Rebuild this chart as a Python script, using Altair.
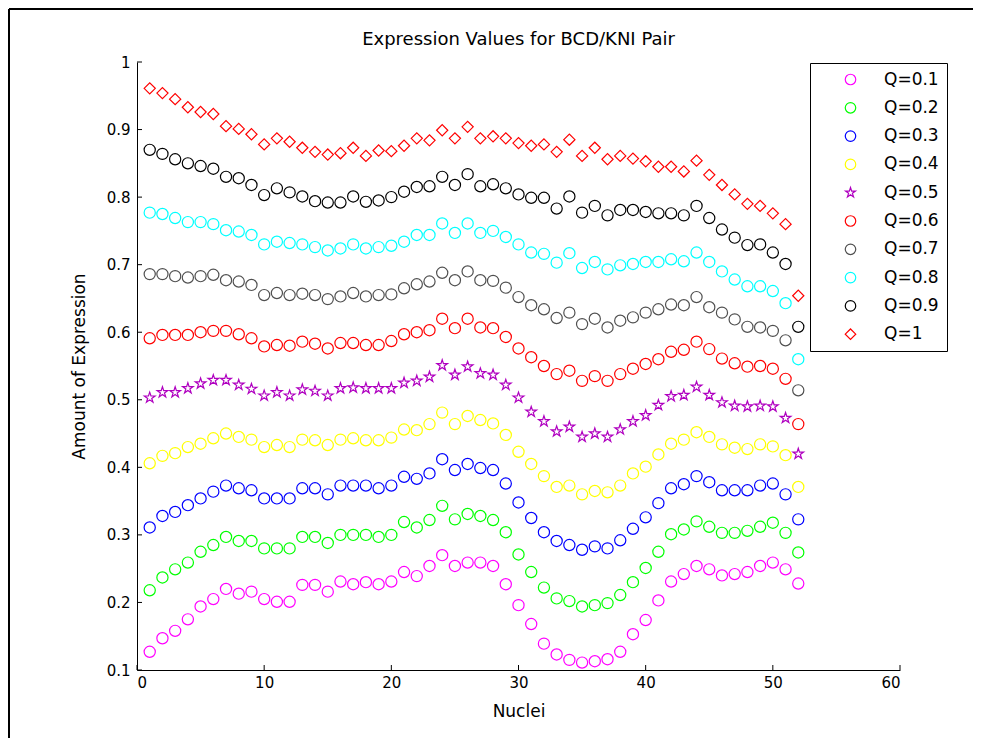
import altair as alt
import pandas as pd

nuclei = list(range(1, 53))
series_labels = ["Q=0.1", "Q=0.2", "Q=0.3", "Q=0.4", "Q=0.5",
                 "Q=0.6", "Q=0.7", "Q=0.8", "Q=0.9", "Q=1"]

q01 = [0.127, 0.147, 0.158, 0.175, 0.194, 0.205, 0.220, 0.213, 0.216, 0.205,
       0.201, 0.201, 0.226, 0.226, 0.216, 0.231, 0.227, 0.230, 0.227, 0.231,
       0.245, 0.239, 0.254, 0.270, 0.254, 0.259, 0.259, 0.254, 0.227, 0.196,
       0.168, 0.139, 0.123, 0.115, 0.111, 0.113, 0.116, 0.127, 0.153, 0.174,
       0.203, 0.231, 0.242, 0.254, 0.249, 0.240, 0.242, 0.245, 0.254, 0.259,
       0.249, 0.228]
q02 = [0.218, 0.237, 0.249, 0.259, 0.275, 0.285, 0.297, 0.291, 0.291, 0.280,
       0.280, 0.280, 0.297, 0.297, 0.288, 0.300, 0.300, 0.300, 0.297, 0.300,
       0.319, 0.311, 0.322, 0.343, 0.323, 0.331, 0.328, 0.322, 0.304, 0.271,
       0.245, 0.222, 0.206, 0.202, 0.194, 0.196, 0.199, 0.211, 0.230, 0.251,
       0.275, 0.301, 0.308, 0.320, 0.312, 0.303, 0.303, 0.306, 0.312, 0.318,
       0.303, 0.274]
q03 = [0.311, 0.328, 0.334, 0.344, 0.354, 0.364, 0.373, 0.369, 0.366, 0.354,
       0.354, 0.354, 0.369, 0.369, 0.360, 0.373, 0.373, 0.373, 0.369, 0.373,
       0.386, 0.383, 0.391, 0.412, 0.396, 0.405, 0.399, 0.396, 0.376, 0.348,
       0.325, 0.304, 0.291, 0.285, 0.278, 0.283, 0.280, 0.292, 0.309, 0.326,
       0.347, 0.369, 0.375, 0.387, 0.378, 0.366, 0.366, 0.366, 0.373, 0.376,
       0.360, 0.323]
q04 = [0.406, 0.417, 0.421, 0.430, 0.435, 0.443, 0.450, 0.445, 0.441, 0.430,
       0.433, 0.430, 0.441, 0.440, 0.433, 0.441, 0.443, 0.440, 0.440, 0.444,
       0.456, 0.455, 0.464, 0.481, 0.464, 0.476, 0.470, 0.465, 0.448, 0.423,
       0.405, 0.387, 0.371, 0.373, 0.360, 0.365, 0.363, 0.373, 0.391, 0.401,
       0.419, 0.435, 0.441, 0.452, 0.445, 0.434, 0.429, 0.427, 0.434, 0.431,
       0.418, 0.371]
q05 = [0.503, 0.511, 0.511, 0.517, 0.524, 0.529, 0.529, 0.522, 0.516, 0.506,
       0.511, 0.506, 0.515, 0.513, 0.506, 0.517, 0.518, 0.517, 0.517, 0.517,
       0.525, 0.528, 0.534, 0.551, 0.537, 0.549, 0.539, 0.537, 0.522, 0.503,
       0.482, 0.468, 0.453, 0.460, 0.445, 0.450, 0.445, 0.456, 0.468, 0.477,
       0.492, 0.505, 0.507, 0.519, 0.507, 0.496, 0.491, 0.490, 0.491, 0.490,
       0.473, 0.420]
q06 = [0.591, 0.596, 0.596, 0.596, 0.600, 0.602, 0.602, 0.597, 0.591, 0.579,
       0.581, 0.580, 0.586, 0.583, 0.576, 0.584, 0.584, 0.581, 0.581, 0.587,
       0.597, 0.600, 0.603, 0.620, 0.606, 0.620, 0.607, 0.606, 0.593, 0.576,
       0.563, 0.550, 0.538, 0.543, 0.528, 0.535, 0.528, 0.538, 0.546, 0.553,
       0.560, 0.571, 0.574, 0.586, 0.575, 0.561, 0.554, 0.549, 0.550, 0.546,
       0.531, 0.464]
q07 = [0.686, 0.686, 0.683, 0.681, 0.683, 0.685, 0.677, 0.675, 0.670, 0.655,
       0.658, 0.655, 0.657, 0.655, 0.649, 0.653, 0.658, 0.653, 0.655, 0.656,
       0.665, 0.671, 0.675, 0.688, 0.677, 0.690, 0.677, 0.676, 0.666, 0.652,
       0.640, 0.634, 0.621, 0.629, 0.612, 0.620, 0.607, 0.617, 0.622, 0.629,
       0.634, 0.641, 0.640, 0.652, 0.637, 0.629, 0.619, 0.608, 0.607, 0.602,
       0.588, 0.514]
q08 = [0.777, 0.775, 0.769, 0.763, 0.763, 0.760, 0.751, 0.749, 0.744, 0.730,
       0.734, 0.732, 0.730, 0.726, 0.721, 0.724, 0.730, 0.724, 0.726, 0.728,
       0.734, 0.744, 0.744, 0.761, 0.747, 0.761, 0.747, 0.750, 0.741, 0.730,
       0.718, 0.716, 0.703, 0.717, 0.695, 0.704, 0.693, 0.699, 0.701, 0.704,
       0.704, 0.708, 0.705, 0.718, 0.704, 0.690, 0.678, 0.668, 0.668, 0.661,
       0.643, 0.560]
q09 = [0.870, 0.864, 0.856, 0.850, 0.846, 0.842, 0.830, 0.828, 0.818, 0.803,
       0.813, 0.807, 0.801, 0.794, 0.792, 0.792, 0.801, 0.793, 0.795, 0.800,
       0.808, 0.815, 0.816, 0.830, 0.818, 0.834, 0.816, 0.819, 0.813, 0.804,
       0.799, 0.799, 0.783, 0.801, 0.777, 0.787, 0.773, 0.781, 0.781, 0.778,
       0.776, 0.776, 0.773, 0.787, 0.769, 0.752, 0.740, 0.729, 0.730, 0.718,
       0.701, 0.608]
q10 = [0.961, 0.954, 0.945, 0.933, 0.926, 0.923, 0.905, 0.901, 0.893, 0.878,
       0.887, 0.882, 0.873, 0.867, 0.863, 0.865, 0.873, 0.861, 0.869, 0.868,
       0.876, 0.887, 0.884, 0.899, 0.887, 0.904, 0.887, 0.890, 0.887, 0.880,
       0.876, 0.878, 0.867, 0.885, 0.861, 0.873, 0.856, 0.861, 0.857, 0.853,
       0.845, 0.845, 0.838, 0.854, 0.833, 0.818, 0.804, 0.790, 0.787, 0.776,
       0.760, 0.654]

all_series = [q01, q02, q03, q04, q05, q06, q07, q08, q09, q10]

series_colors = ["#ff00ff", "#00ff00", "#0000ff", "#ffff00", "#b000c0",
                 "#ff0000", "#505050", "#00ffff", "#000000", "#ff0000"]
STAR = ("M0,-1L0.2245,-0.309L0.951,-0.309L0.363,0.118L0.588,0.809L0,0.382"
        "L-0.588,0.809L-0.363,0.118L-0.951,-0.309L-0.2245,-0.309Z")
series_shapes = ["circle", "circle", "circle", "circle", STAR,
                 "circle", "circle", "circle", "circle", "diamond"]

x_ticks = [0, 10, 20, 30, 40, 50, 60]
y_ticks = [0.1, 0.2, 0.3, 0.4, 0.5, 0.6, 0.7, 0.8, 0.9, 1.0]

rows = []
for lab, vals in zip(series_labels, all_series):
    for n, v in zip(nuclei, vals):
        rows.append({"Nuclei": n, "Expression": v, "Series": lab})
df = pd.DataFrame(rows)

W, H = 763, 608
FONT = "DejaVu Sans"

xscale = alt.Scale(domain=[0, 60], nice=False, zero=False)
yscale = alt.Scale(domain=[0.1, 1.0], nice=False, zero=False)

x_axis = alt.Axis(values=x_ticks, title="Nuclei", format="d")
y_axis = alt.Axis(values=y_ticks, title="Amount of Expression", format="~g")

legend = alt.Legend(
    title=None, orient="none", legendX=673, legendY=1,
    strokeColor="black", fillColor="white", padding=8,
    rowPadding=10.3, labelFont=FONT, labelFontSize=17, labelColor="black",
    symbolSize=110, symbolStrokeWidth=1.2, symbolOffset=24, labelOffset=25,
)

points = alt.Chart(df).mark_point(filled=False, size=125, strokeWidth=1.2, opacity=1).encode(
    x=alt.X("Nuclei:Q", scale=xscale, axis=x_axis),
    y=alt.Y("Expression:Q", scale=yscale, axis=y_axis),
    color=alt.Color("Series:N", scale=alt.Scale(domain=series_labels, range=series_colors),
                    legend=legend),
    shape=alt.Shape("Series:N", scale=alt.Scale(domain=series_labels, range=series_shapes),
                    legend=legend),
)

xt = alt.Chart(pd.DataFrame({"t": x_ticks})).mark_rule(color="black", strokeWidth=1).encode(
    x=alt.X("t:Q", scale=xscale, axis=x_axis),
    y=alt.value(H), y2=alt.value(H - 5),
)
yt = alt.Chart(pd.DataFrame({"v": y_ticks})).mark_rule(color="black", strokeWidth=1).encode(
    y=alt.Y("v:Q", scale=yscale, axis=y_axis),
    x=alt.value(0), x2=alt.value(5),
)

frame_df = pd.DataFrame({"k": [0]})
frame_top = alt.Chart(frame_df).mark_rule(color="black", strokeWidth=2).encode(
    x=alt.value(-128), x2=alt.value(W + 73), y=alt.value(-53))
frame_left = alt.Chart(frame_df).mark_rule(color="black", strokeWidth=2).encode(
    x=alt.value(-128), y=alt.value(-53), y2=alt.value(H + 68))

chart = alt.layer(frame_top, frame_left, points, xt, yt).properties(
    width=W, height=H,
    title=alt.TitleParams("Expression Values for BCD/KNI Pair", font=FONT, fontSize=18,
                          fontWeight="normal", color="black", offset=12, anchor="middle",
                          dy=53),
    autosize=alt.AutoSizeParams(type="none"),
    padding={"left": 129, "top": 54, "right": 74, "bottom": 68},
).configure_view(stroke=None).configure_axis(
    grid=False, ticks=False, domainColor="black", domainWidth=1,
    labelFont=FONT, labelFontSize=15, labelColor="black", labelPadding=7,
    titleFont=FONT, titleFontSize=17, titleFontWeight="normal", titleColor="black",
).configure_axisY(titlePadding=18).configure_axisX(titlePadding=13, labelPadding=5)

chart.save("out.html", embed_options={"renderer": "svg", "actions": False})
